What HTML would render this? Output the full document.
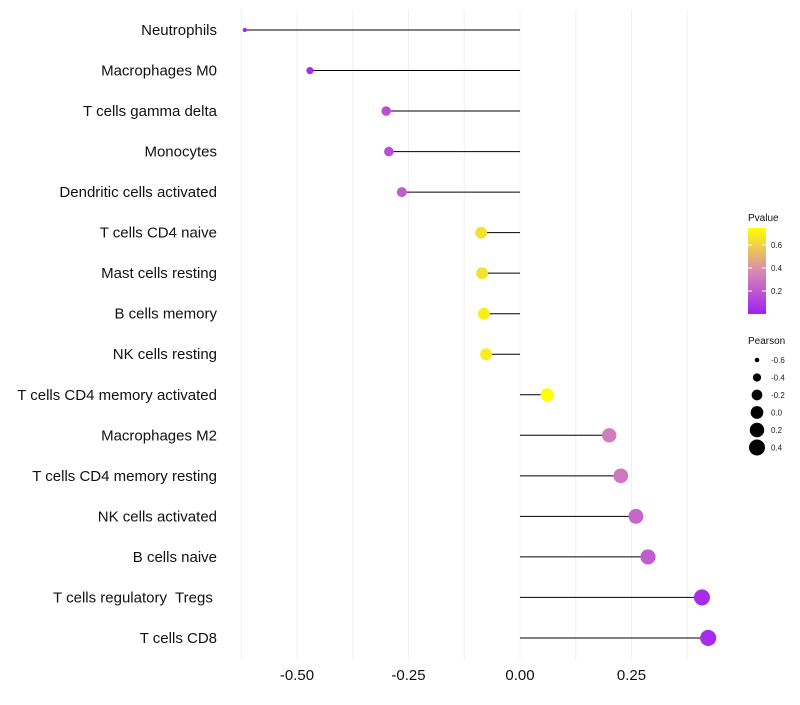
<!DOCTYPE html>
<html><head><meta charset="utf-8"><style>
body{margin:0;background:#fff;font-family:"Liberation Sans",sans-serif}
text{white-space:pre}
</style></head><body>
<svg id="c" width="800" height="700" xmlns="http://www.w3.org/2000/svg">
<defs><linearGradient id="pg" x1="0" y1="1" x2="0" y2="0">
<stop offset="0" stop-color="#a020f0"/><stop offset="0.5" stop-color="#d88ab4"/><stop offset="1" stop-color="#ffff00"/></linearGradient></defs>
<g id="grid"></g><g id="marks"></g><g id="labels"></g><g id="legend"></g>
</svg>
<script>
const categories=["Neutrophils","Macrophages M0","T cells gamma delta","Monocytes","Dendritic cells activated","T cells CD4 naive","Mast cells resting","B cells memory","NK cells resting","T cells CD4 memory activated","Macrophages M2","T cells CD4 memory resting","NK cells activated","B cells naive","T cells regulatory  Tregs ","T cells CD8"];
const pearson=[-0.617,-0.471,-0.300,-0.294,-0.265,-0.087,-0.085,-0.081,-0.076,0.061,0.200,0.226,0.260,0.287,0.408,0.422];
const pvalues=[0.01,0.04,0.17,0.17,0.22,0.66,0.66,0.70,0.70,0.77,0.33,0.31,0.25,0.22,0.05,0.04];
const xTicks=[-0.5,-0.25,0,0.25];
const xTickLabels=["-0.50","-0.25","0.00","0.25"];
const pTicks=[0.2,0.4,0.6];
const sizeTicks=[-0.6,-0.4,-0.2,0,0.2,0.4];
const NS="http://www.w3.org/2000/svg";
const X=v=>520+v*446;
const Y=i=>30+i*40.53;
const R=v=>Math.sqrt(Math.max(3,5.3+(v+0.6)*58.7));
function lerp(a,b,t){return a.map((x,i)=>Math.round(x+(b[i]-x)*t));}
function col(p){const c0=[160,32,240],c1=[216,138,180],c2=[255,255,0];let t=Math.min(1,Math.max(0,p/0.76));
const c=t<0.5?lerp(c0,c1,t*2):lerp(c1,c2,(t-0.5)*2);return `rgb(${c})`;}
function el(tag,a,parent,txt){const e=document.createElementNS(NS,tag);for(const k in a)e.setAttribute(k,a[k]);if(txt!==undefined)e.textContent=txt;parent.appendChild(e);return e;}
const grid=document.getElementById('grid'),marks=document.getElementById('marks'),labels=document.getElementById('labels'),leg=document.getElementById('legend');
for(let v=-0.625;v<=0.44;v+=0.125){const g=el('line',{x1:X(v),x2:X(v),y1:10,y2:660,stroke:'#f0f0f0','stroke-width':1},grid);

}
xTicks.forEach((v,i)=>{const t=el('text',{x:X(v),y:680,'text-anchor':'middle','font-size':15,fill:'#111'},labels,xTickLabels[i]);

});
categories.forEach((c,i)=>{
const t=el('text',{x:217,y:Y(i)+5,'text-anchor':'end','font-size':15,fill:'#111'},labels,c);


const l=el('line',{x1:X(0),x2:X(pearson[i]),y1:Y(i),y2:Y(i),stroke:'#000','stroke-width':1},marks);


const d=el('circle',{cx:X(pearson[i]),cy:Y(i),r:R(pearson[i]),fill:col(pvalues[i])},marks);


});
el('text',{x:748,y:221,'font-size':10,fill:'#111'},leg,'Pvalue');
const bar=el('rect',{x:748,y:228,width:18,height:86,fill:'url(#pg)'},leg);


pTicks.forEach(p=>{const y=314-p*115;el('line',{x1:748,x2:752,y1:y,y2:y,stroke:'#fff'},leg);el('line',{x1:762,x2:766,y1:y,y2:y,stroke:'#fff'},leg);
const t=el('text',{x:771,y:y+3,'font-size':8,fill:'#222'},leg,p.toFixed(1));

});
el('text',{x:748,y:344,'font-size':10,fill:'#111'},leg,'Pearson');
sizeTicks.forEach((s,i)=>{const y=360+i*17.5;
const c=el('circle',{cx:757,cy:y,r:R(s),fill:'#000'},leg);


const t=el('text',{x:771,y:y+3,'font-size':8,fill:'#222'},leg,s.toFixed(1));

});
</script>
</body></html>
